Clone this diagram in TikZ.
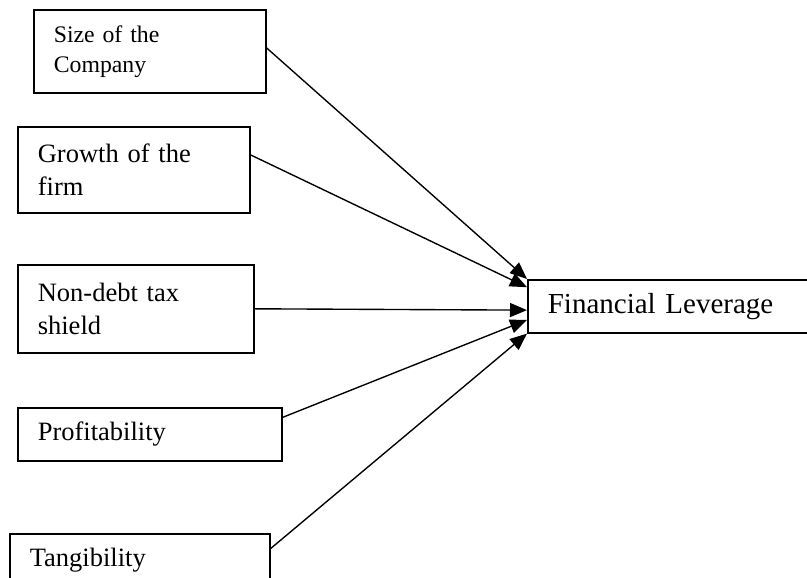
\documentclass[tikz,border=0pt]{standalone}
\usepackage{fontspec}
\setmainfont{Liberation Serif}
\usetikzlibrary{arrows.meta}
\usetikzlibrary{positioning}
\usetikzlibrary{calc}

\begin{document}
\begin{tikzpicture}[x=0.4pt,y=-0.4pt]
	\tikzset{
	  factor/.style={draw,line width=0.65pt,anchor=north west,inner xsep=8pt,inner ysep=0pt,
		align=left,font=\fontsize{10.6}{13.4}\selectfont},
	  arrow/.style={line width=0.55pt,-{Triangle[length=6.8pt,width=5.6pt]}}
	}
	\useasboundingbox (0,0) rectangle (807,578);
	\clip (0,0) rectangle (807,578);
	%FACTORS
	\node[factor,text width=76.8pt,minimum height=33.2pt,font=\fontsize{9.5}{12}\selectfont] (size) at (33,9) {Size of the\\Company};
	\node[factor,text width=76.8pt,minimum height=34.4pt] (growth) at (17,126) {Growth of the\\firm};
	\node[factor,text width=78.4pt,minimum height=35.2pt] (shield) at (17,264) {Non-debt tax\\shield};
	\node[factor,text width=89.6pt,minimum height=21.2pt] (profit) at (17,407) {Profitability};
	\node[factor,text width=88pt,minimum height=20.8pt] (tang) at (9,533) {Tangibility};
	%TARGET
	\node[factor,text width=104pt,minimum height=21.2pt,font=\fontsize{11.6}{13.4}\selectfont] (lev) at (527,279) {Financial Leverage};
	%ARROWS
	\foreach \src/\fs/\fe in {size/0.46/0,growth/0.33/0.15,shield/0.5/0.57,profit/0.19/0.75,tang/0.29/1}{
		\draw[arrow] ($(\src.north east)!\fs!(\src.south east)$) -- ($(lev.north west)!\fe!(lev.south west)$);
	}
\end{tikzpicture}
\end{document}
